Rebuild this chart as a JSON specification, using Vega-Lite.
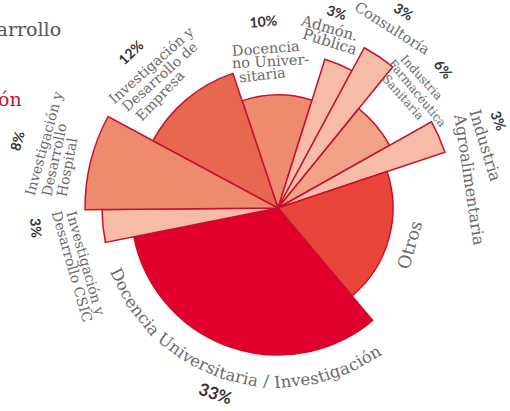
{
  "$schema": "https://vega.github.io/schema/vega-lite/v6.json",
  "width": 464,
  "height": 406,
  "autosize": "none",
  "padding": {"left": 46, "top": 5, "right": 0, "bottom": 0},
  "background": "white",
  "config": {"view": {"stroke": null}},
  "datasets": {
    "slices": [
      {"name": "Docencia no Universitaria", "pct": 10, "value": 113},
      {"name": "Admón. Pública", "pct": 3, "value": 156},
      {"name": "Consultoría", "pct": 3, "value": 182},
      {"name": "Industria Farmacéutica Sanitaria", "pct": 6, "value": 128},
      {"name": "Industria Agroalimentaria", "pct": 3, "value": 176},
      {"name": "Otros", "pct": 19, "value": 115},
      {"name": "Docencia Universitaria / Investigación", "pct": 33, "value": 147},
      {"name": "Investigación y Desarrollo CSIC", "pct": 3, "value": 176},
      {"name": "Investigación y Desarrollo Hospital", "pct": 8, "value": 193},
      {"name": "Investigación y Desarrollo de Empresa", "pct": 12, "value": 142}
    ],
    "labels": [
      {"k": "name", "s": "Docencia no Universitaria", "t": "Docencia", "a": -4.4, "r": 159},
      {"k": "name", "s": "Docencia no Universitaria", "t": "no Univer-", "a": -2.9, "r": 146},
      {"k": "name", "s": "Docencia no Universitaria", "t": "sitaria", "a": -6.7, "r": 133},
      {"k": "name", "s": "Admón. Pública", "t": "Admón.", "a": 16.1, "r": 187},
      {"k": "name", "s": "Admón. Pública", "t": "Pública", "a": 17.3, "r": 174},
      {"k": "name", "s": "Consultoría", "t": "Consultoría", "a": 32.4, "r": 212},
      {"k": "name", "s": "Industria Farmacéutica Sanitaria", "t": "Industria", "a": 47.7, "r": 194},
      {"k": "name", "s": "Industria Farmacéutica Sanitaria", "t": "Farmacéutica", "a": 50.5, "r": 180.5},
      {"k": "name", "s": "Industria Farmacéutica Sanitaria", "t": "Sanitaria", "a": 48.5, "r": 167},
      {"k": "name", "s": "Industria Agroalimentaria", "t": "Industria", "a": 73.2, "r": 216},
      {"k": "name", "s": "Industria Agroalimentaria", "t": "Agroalimentaria", "a": 81.6, "r": 193},
      {"k": "name", "s": "Otros", "t": "Otros", "a": 105.6, "r": 138},
      {"k": "name", "s": "Docencia Universitaria / Investigación", "t": "Doc", "a": 244.15, "r": 174},
      {"k": "name", "s": "Docencia Universitaria / Investigación", "t": "encia", "a": 231.47, "r": 174},
      {"k": "name", "s": "Docencia Universitaria / Investigación", "t": "Univ", "a": 216.17, "r": 174},
      {"k": "name", "s": "Docencia Universitaria / Investigación", "t": "ersi", "a": 204.81, "r": 174},
      {"k": "name", "s": "Docencia Universitaria / Investigación", "t": "taria", "a": 193.08, "r": 174},
      {"k": "name", "s": "Docencia Universitaria / Investigación", "t": "/", "a": 183.88, "r": 174},
      {"k": "name", "s": "Docencia Universitaria / Investigación", "t": "Inves", "a": 173.9, "r": 174},
      {"k": "name", "s": "Docencia Universitaria / Investigación", "t": "tiga", "a": 161.22, "r": 174},
      {"k": "name", "s": "Docencia Universitaria / Investigación", "t": "ción", "a": 150.07, "r": 174},
      {"k": "name", "s": "Investigación y Desarrollo CSIC", "t": "Investigación y", "a": 254, "r": 201},
      {"k": "name", "s": "Investigación y Desarrollo CSIC", "t": "Desarrollo CSIC", "a": 254.1, "r": 215},
      {"k": "name", "s": "Investigación y Desarrollo Hospital", "t": "Investigación y", "a": 285.4, "r": 242},
      {"k": "name", "s": "Investigación y Desarrollo Hospital", "t": "Desarrollo", "a": 282.2, "r": 228},
      {"k": "name", "s": "Investigación y Desarrollo Hospital", "t": "Hospital", "a": 280.9, "r": 214},
      {"k": "name", "s": "Investigación y Desarrollo de Empresa", "t": "Investigación y", "a": 318.4, "r": 190},
      {"k": "name", "s": "Investigación y Desarrollo de Empresa", "t": "Desarrollo de", "a": 318, "r": 176},
      {"k": "name", "s": "Investigación y Desarrollo de Empresa", "t": "Empresa", "a": 313.6, "r": 162},
      {"k": "pct", "s": "Docencia no Universitaria", "t": "10%", "a": -4.5, "r": 186},
      {"k": "pct", "s": "Admón. Pública", "t": "3%", "a": 16.7, "r": 203},
      {"k": "pct", "s": "Consultoría", "t": "3%", "a": 32.6, "r": 232},
      {"k": "pct", "s": "Industria Farmacéutica Sanitaria", "t": "6%", "a": 50, "r": 214.6},
      {"k": "pct", "s": "Industria Agroalimentaria", "t": "3%", "a": 68.4, "r": 236},
      {"k": "pct", "s": "Docencia Universitaria / Investigación", "t": "33%", "a": 198.6, "r": 197},
      {"k": "pct", "s": "Investigación y Desarrollo CSIC", "t": "3%", "a": 265.3, "r": 244},
      {"k": "pct", "s": "Investigación y Desarrollo Hospital", "t": "8%", "a": 284.4, "r": 268},
      {"k": "pct", "s": "Investigación y Desarrollo de Empresa", "t": "12%", "a": 316.6, "r": 213},
      {"k": "title", "s": "Desarrollo", "t": "Desarrollo", "a": 309.4, "r": 280.7},
      {"k": "title", "s": "Investigación", "t": "Investigación", "a": 292.8, "r": 278}
    ]
  },
  "layer": [
    {
      "data": {"name": "slices"},
      "transform": [{"stack": "pct", "groupby": [], "as": ["p0", "p1"]}],
      "mark": {"type": "arc", "stroke": "#C8102E", "strokeWidth": 1.5, "strokeJoin": "miter"},
      "encoding": {
        "theta": {"field": "p0", "type": "quantitative", "scale": {"domain": [0, 100], "range": [-0.32289, 5.96029]}},
        "theta2": {"field": "p1"},
        "radius": {"field": "value", "type": "quantitative", "scale": {"type": "linear", "domain": [0, 200], "range": [0, 200]}},
        "color": {
          "field": "name", "type": "nominal", "legend": null,
          "scale": {
            "domain": ["Docencia no Universitaria", "Admón. Pública", "Consultoría", "Industria Farmacéutica Sanitaria", "Industria Agroalimentaria", "Otros", "Docencia Universitaria / Investigación", "Investigación y Desarrollo CSIC", "Investigación y Desarrollo Hospital", "Investigación y Desarrollo de Empresa"],
            "range": ["#EE8B6F", "#F6BCA8", "#F6BCA8", "#F2A286", "#F6BCA8", "#E8443A", "#E0002B", "#F6BCA8", "#EE8B6F", "#E8684F"]
          }
        }
      }
    },
    {
      "data": {"name": "labels"},
      "transform": [
        {"filter": "datum.k === 'name'"},
        {"calculate": "datum.a < 90 || datum.a > 270 ? datum.a : datum.a - 180", "as": "rot"}
      ],
      "mark": {"type": "text", "font": "DejaVu Serif", "align": "center", "baseline": "middle", "color": "#6a6a6a"},
      "encoding": {
        "theta": {"field": "a", "type": "quantitative", "scale": {"domain": [0, 360], "range": [0, 6.283185]}},
        "radius": {"field": "r", "type": "quantitative", "scale": {"type": "linear", "domain": [0, 300], "range": [0, 300]}},
        "text": {"field": "t"},
        "angle": {"field": "rot", "type": "quantitative", "scale": null},
        "size": {
          "field": "s", "type": "ordinal", "legend": null,
          "scale": {
            "type": "ordinal",
            "domain": ["Docencia no Universitaria", "Admón. Pública", "Consultoría", "Industria Farmacéutica Sanitaria", "Industria Agroalimentaria", "Otros", "Docencia Universitaria / Investigación", "Investigación y Desarrollo CSIC", "Investigación y Desarrollo Hospital", "Investigación y Desarrollo de Empresa"],
            "range": [14.5, 15, 14.5, 12, 16, 17.5, 16.5, 14, 14, 14]
          }
        }
      }
    },
    {
      "data": {"name": "labels"},
      "transform": [
        {"filter": "datum.k === 'pct'"},
        {"calculate": "datum.a < 90 || datum.a > 270 ? datum.a : datum.a - 180", "as": "rot"}
      ],
      "mark": {"type": "text", "font": "Lato", "fontWeight": "bold", "align": "center", "baseline": "middle", "color": "#333333"},
      "encoding": {
        "theta": {"field": "a", "type": "quantitative", "scale": {"domain": [0, 360], "range": [0, 6.283185]}},
        "radius": {"field": "r", "type": "quantitative", "scale": {"type": "linear", "domain": [0, 300], "range": [0, 300]}},
        "text": {"field": "t"},
        "angle": {"field": "rot", "type": "quantitative", "scale": null},
        "size": {
          "field": "s", "type": "ordinal", "legend": null,
          "scale": {
            "type": "ordinal",
            "domain": ["Docencia no Universitaria", "Admón. Pública", "Consultoría", "Industria Farmacéutica Sanitaria", "Industria Agroalimentaria", "Docencia Universitaria / Investigación", "Investigación y Desarrollo CSIC", "Investigación y Desarrollo Hospital", "Investigación y Desarrollo de Empresa"],
            "range": [14, 14, 14, 14, 14, 17, 14, 14, 14]
          }
        }
      }
    },
    {
      "data": {"name": "labels"},
      "transform": [{"filter": "datum.k === 'title'"}],
      "mark": {"type": "text", "font": "DejaVu Serif", "align": "right", "baseline": "middle", "fontSize": 19},
      "encoding": {
        "theta": {"field": "a", "type": "quantitative", "scale": {"domain": [0, 360], "range": [0, 6.283185]}},
        "radius": {"field": "r", "type": "quantitative", "scale": {"type": "linear", "domain": [0, 300], "range": [0, 300]}},
        "text": {"field": "t"},
        "color": {"field": "s", "type": "nominal", "legend": null, "scale": {"domain": ["Desarrollo", "Investigación"], "range": ["#555555", "#C8102E"]}}
      }
    }
  ],
  "resolve": {"scale": {"theta": "independent", "radius": "independent", "color": "independent", "size": "independent"}}
}
